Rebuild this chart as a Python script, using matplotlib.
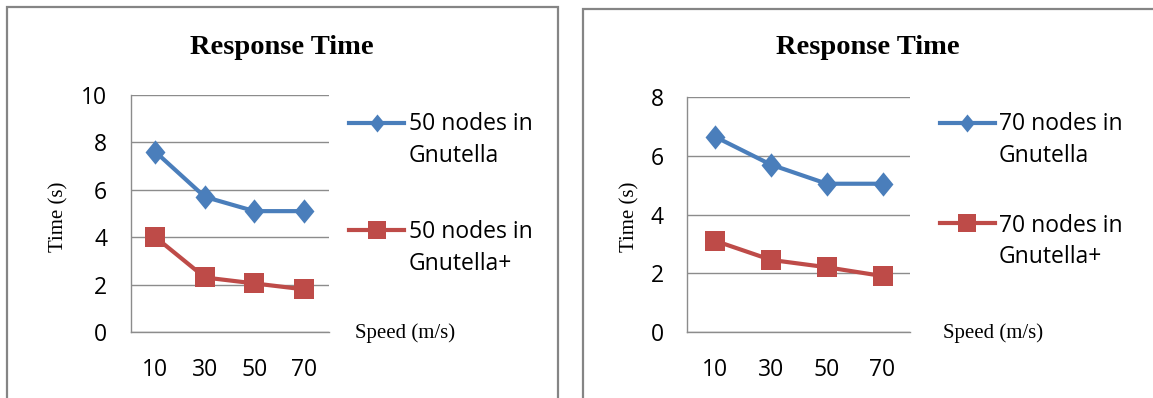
import matplotlib
matplotlib.use("Agg")
import matplotlib.pyplot as plt
from matplotlib.lines import Line2D
from matplotlib.patches import Rectangle
from matplotlib.path import Path

# ---- data -------------------------------------------------------------
speeds = ["10", "30", "50", "70"]

gnutella_50 = [7.6, 5.7, 5.1, 5.1]
gnutella_plus_50 = [4.0, 2.3, 2.05, 1.8]

gnutella_70 = [6.65, 5.7, 5.05, 5.05]
gnutella_plus_70 = [3.1, 2.45, 2.2, 1.9]

yticks_left = [0, 2, 4, 6, 8, 10]
yticks_right = [0, 2, 4, 6, 8]

labels_left = ["50 nodes in\nGnutella", "50 nodes in\nGnutella+"]
labels_right = ["70 nodes in\nGnutella", "70 nodes in\nGnutella+"]

title = "Response Time"
ylabel = "Time (s)"
xlabel = "Speed (m/s)"

# ---- style ------------------------------------------------------------
W, H = 1153, 398
BLUE = "#4a7ebb"
RED = "#be4b48"
GRID = "#8c8c8c"
FRAME = "#858585"
SANS = "Open Sans"
SERIF = "Liberation Serif"

# Excel-like diamond: a bit taller than wide
DIAMOND = Path([(0, 1), (0.82, 0), (0, -1), (-0.82, 0), (0, 1)],
               [Path.MOVETO, Path.LINETO, Path.LINETO, Path.LINETO, Path.CLOSEPOLY])

fig = plt.figure(figsize=(W / 100, H / 100), dpi=100)


def fx(px):
    return px / W


def fy(py):
    return 1 - py / H


def panel(frame, plot_box, title_x, ylab_x, xlab_x, legend, yticks, s1, s2, labels):
    # chart frame
    x0, y0, x1, y1 = frame
    fig.add_artist(Rectangle((fx(x0), fy(y1)), fx(x1) - fx(x0), fy(y0) - fy(y1),
                             transform=fig.transFigure, fill=False,
                             edgecolor=FRAME, linewidth=1.6))
    # plot area
    l, t, r, b = plot_box
    ax = fig.add_axes([fx(l), fy(b), fx(r) - fx(l), fy(t) - fy(b)])
    xs = list(range(len(speeds)))
    ax.plot(xs, s1, color=BLUE, linewidth=3.0, marker=DIAMOND,
            markersize=17.5, markeredgewidth=0, zorder=3, clip_on=False)
    ax.plot(xs, s2, color=RED, linewidth=3.0, marker="s",
            markersize=15, markeredgewidth=0, zorder=3, clip_on=False)
    ax.set_xlim(-0.5, len(speeds) - 0.5)
    ax.set_ylim(yticks[0], yticks[-1])
    ax.set_yticks(yticks)
    ax.set_yticklabels([str(v) for v in yticks], fontsize=16.5, family=SANS)
    ax.set_xticks(xs)
    ax.set_xticklabels(speeds, fontsize=16.5, family=SANS)
    ax.tick_params(axis="y", length=0, pad=17)
    ax.tick_params(axis="x", length=0, pad=19)
    ax.grid(axis="y", color=GRID, linewidth=1.0)
    ax.set_axisbelow(True)
    for side in ("top", "right"):
        ax.spines[side].set_visible(False)
    ax.spines["left"].set_color(GRID)
    ax.spines["bottom"].set_color(GRID)
    ax.spines["left"].set_linewidth(1.0)
    ax.spines["bottom"].set_linewidth(1.0)

    fig.text(fx(title_x), fy(47), title, fontsize=20.5, fontweight="bold",
             family=SERIF, ha="center", va="center")
    fig.text(fx(ylab_x), fy(217), ylabel, fontsize=15, family=SERIF,
             rotation=90, ha="center", va="center")
    fig.text(fx(xlab_x), fy(333), xlabel, fontsize=15, family=SERIF,
             ha="center", va="center")

    # legend keys and labels
    (lx0, lx1, tx), entries = legend
    for (ly, base), color, marker, ms, lab in zip(entries, (BLUE, RED),
                                                  (DIAMOND, "s"), (13, 12.5), labels):
        fig.add_artist(Line2D([fx(lx0), fx(lx1)], [fy(ly), fy(ly)],
                              transform=fig.transFigure, color=color, linewidth=3.0))
        fig.add_artist(Line2D([fx((lx0 + lx1) / 2)], [fy(ly)],
                              transform=fig.transFigure, color=color,
                              marker=marker, markersize=ms, markeredgewidth=0))
        for i, line in enumerate(lab.split("\n")):
            fig.text(fx(tx), fy(base + 31.5 * i), line, fontsize=16.5, family=SANS,
                     ha="left", va="baseline")
    return ax


panel(frame=(7, 6.5, 558, 420),
      plot_box=(130.7, 95, 328.6, 332),
      title_x=282, ylab_x=59, xlab_x=405,
      legend=((349, 404, 409), [(123, 130.5), (230, 238.5)]),
      yticks=yticks_left, s1=gnutella_50, s2=gnutella_plus_50, labels=labels_left)

panel(frame=(583, 9, 1180, 420),
      plot_box=(687.4, 97.3, 910.4, 331.7),
      title_x=868, ylab_x=630, xlab_x=993,
      legend=((940, 994.5, 999), [(122.7, 130.5), (223.3, 231.5)]),
      yticks=yticks_right, s1=gnutella_70, s2=gnutella_plus_70, labels=labels_right)

fig.savefig("out.png", dpi=100, facecolor="white")
